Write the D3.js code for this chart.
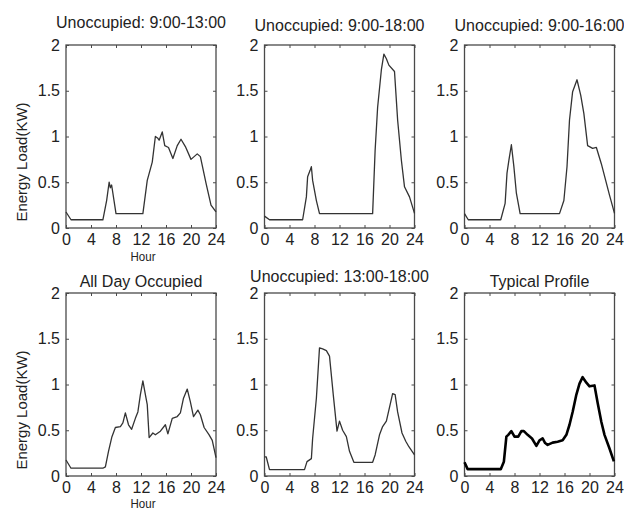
<!DOCTYPE html>
<html>
<head>
<meta charset="utf-8">
<script src="https://cdn.jsdelivr.net/npm/d3@7"></script>
<style>
    body { margin: 0; background: #fff; }
    svg { display: block; font-family: "Liberation Sans", Arial, sans-serif; }
    .frame { fill: none; stroke: #4a4a4a; stroke-width: 1.3; }
    .axis path { display: none; }
    .axis line { stroke: #4a4a4a; }
    .axis text { fill: #222; font-size: 16px; }
    .title, .axis-title { fill: #222; }
    .line { fill: none; stroke: #333; stroke-width: 1.3; stroke-linejoin: round; }
</style>
</head>
<body>
<svg id="chart" width="624" height="512"></svg>
<script>
/**********************************************
 *
 * six daily load profiles (hour, kW)
 *
 **********************************************/
const xTicks = [0, 4, 8, 12, 16, 20, 24]
const yTicks = [0, 0.5, 1, 1.5, 2]

const titles = [
    "Unoccupied: 9:00-13:00",
    "Unoccupied: 9:00-18:00",
    "Unoccupied: 9:00-16:00",
    "All Day Occupied",
    "Unoccupied: 13:00-18:00",
    "Typical Profile"
]

const unocc9to13 = [[0, 0.175], [0.8, 0.09], [5.9, 0.09], [6.5, 0.3], [6.9, 0.5], [7.1, 0.44], [7.3, 0.47], [8, 0.157],
    [12.3, 0.157], [13, 0.52], [13.8, 0.72], [14.3, 1.0], [14.7, 0.98], [14.9, 0.96], [15.4, 1.05], [15.8, 0.9],
    [16.4, 0.88], [17.1, 0.76], [17.8, 0.9], [18.4, 0.97], [19.1, 0.89], [20, 0.75], [21, 0.81], [21.5, 0.78],
    [22.4, 0.49], [23.2, 0.25], [24, 0.175]]

const unocc9to18 = [[0, 0.13], [0.8, 0.09], [6.1, 0.09], [6.7, 0.34], [6.9, 0.56], [7.3, 0.63], [7.5, 0.67], [7.7, 0.52],
    [8.3, 0.3], [8.8, 0.157], [17.3, 0.157], [17.7, 0.85], [18.1, 1.32], [18.7, 1.73], [19.1, 1.9], [19.5, 1.85],
    [19.9, 1.78], [20.8, 1.71], [21.3, 1.18], [21.9, 0.74], [22.4, 0.45], [23.2, 0.34], [24, 0.16]]

const unocc9to16 = [[0, 0.157], [0.6, 0.09], [5.8, 0.09], [6.5, 0.27], [6.8, 0.6], [7.1, 0.74], [7.5, 0.91], [7.9, 0.67],
    [8.3, 0.38], [8.9, 0.157], [15.2, 0.157], [15.9, 0.3], [16.4, 0.67], [16.8, 1.18], [17.3, 1.49], [18.0, 1.62],
    [18.6, 1.45], [19.1, 1.25], [19.7, 0.9], [20.5, 0.87], [21.1, 0.88], [21.9, 0.7], [22.7, 0.49], [23.2, 0.36],
    [24, 0.16]]

const allDayOccupied = [[0, 0.175], [0.8, 0.085], [5.9, 0.085], [6.3, 0.1], [6.8, 0.27], [7.35, 0.43], [7.9, 0.53],
    [8.7, 0.54], [9.1, 0.58], [9.5, 0.69], [10.0, 0.56], [10.5, 0.51], [11.1, 0.63], [11.5, 0.7], [11.9, 0.89],
    [12.3, 1.04], [12.7, 0.89], [13.0, 0.78], [13.3, 0.42], [13.9, 0.47], [14.3, 0.45], [15.1, 0.49], [15.9, 0.56],
    [16.3, 0.46], [17.0, 0.63], [17.8, 0.65], [18.3, 0.69], [18.8, 0.85], [19.4, 0.95], [19.9, 0.81], [20.4, 0.65],
    [21.1, 0.72], [21.5, 0.67], [22.1, 0.53], [22.9, 0.45], [23.4, 0.39], [24, 0.2]]

const unocc13to18 = [[0, 0.21], [0.27, 0.21], [0.8, 0.07], [6.4, 0.07], [6.8, 0.157], [7.5, 0.19], [7.7, 0.41],
    [8.3, 0.85], [8.8, 1.4], [9.3, 1.39], [9.9, 1.37], [10.4, 1.31], [11.0, 0.89], [11.6, 0.49], [12.0, 0.6],
    [12.5, 0.5], [13.1, 0.43], [13.6, 0.27], [14.3, 0.15], [17.3, 0.15], [17.7, 0.23], [18.4, 0.45], [18.9, 0.54],
    [19.5, 0.6], [19.9, 0.72], [20.5, 0.9], [20.9, 0.89], [21.3, 0.7], [22.0, 0.47], [22.6, 0.38], [23.1, 0.32],
    [24, 0.23]]

const typicalProfile = [[0, 0.15], [0.5, 0.075], [5.8, 0.075], [6.3, 0.157], [6.7, 0.43], [7.0, 0.45], [7.5, 0.49],
    [8.0, 0.43], [8.6, 0.43], [9.1, 0.49], [9.5, 0.49], [10.1, 0.45], [10.8, 0.41], [11.5, 0.33], [12.0, 0.39],
    [12.5, 0.41], [12.9, 0.36], [13.3, 0.34], [14.1, 0.365], [14.9, 0.375], [15.7, 0.39], [16.3, 0.45], [16.8, 0.56],
    [17.3, 0.7], [17.9, 0.89], [18.4, 1.01], [18.9, 1.08], [19.5, 1.02], [20.0, 0.98], [20.8, 0.99], [21.3, 0.8],
    [21.9, 0.59], [22.4, 0.45], [23.2, 0.3], [23.9, 0.16]]

const series = [unocc9to13, unocc9to18, unocc9to16, allDayOccupied, unocc13to18, typicalProfile]

// layout
const colX = [66, 264.5, 464.5]
const rowY = [45, 293]
const size = { w: 150, h: 183 }
const titleY = [28, 31, 31, 287, 282, 287]   // baselines

const svg = d3.select("#chart")

series.forEach((data, i) => {
    const col = i % 3
    const row = Math.floor(i / 3)
    const g = svg.append("g").attr("transform", `translate(${colX[col]}, ${rowY[row]})`)

    const x = d3.scaleLinear().domain([0, 24]).range([0, size.w])
    const y = d3.scaleLinear().domain([0, 2]).range([size.h, 0])

    // axes, ticks pointing inwards on all four sides
    g.append("g").attr("class", "axis")
        .attr("transform", `translate(0, ${size.h})`)
        .call(d3.axisBottom(x).tickValues(xTicks).tickSizeInner(-3).tickSizeOuter(0).tickPadding(5.5))
    g.append("g").attr("class", "axis")
        .call(d3.axisTop(x).tickValues(xTicks).tickSizeInner(-3).tickSizeOuter(0).tickFormat(""))
    g.append("g").attr("class", "axis")
        .call(d3.axisLeft(y).tickValues(yTicks).tickSizeInner(-3).tickSizeOuter(0).tickPadding(6)
            .tickFormat(d => String(d)))
    g.append("g").attr("class", "axis")
        .attr("transform", `translate(${size.w}, 0)`)
        .call(d3.axisRight(y).tickValues(yTicks).tickSizeInner(-3).tickSizeOuter(0).tickFormat(""))

    g.append("rect").attr("class", "frame")
        .attr("width", size.w).attr("height", size.h)

    const line = d3.line().x(d => x(d[0])).y(d => y(d[1]))
    g.append("path").datum(data)
        .attr("class", "line")
        .attr("d", line)
        .style("stroke", i === 5 ? "#000" : null)
        .style("stroke-width", i === 5 ? 2.6 : null)

    // panel title
    svg.append("text")
        .attr("class", "title")
        .attr("x", colX[col] + size.w / 2)
        .attr("y", titleY[i])
        .attr("text-anchor", "middle")
        .style("font-size", "16px")
        .text(titles[i])

    if (col === 0) {
        // y-axis title
        svg.append("text")
            .attr("class", "axis-title")
            .attr("transform", `translate(27, ${rowY[row] + 117}) rotate(-90)`)
            .attr("text-anchor", "middle")
            .style("font-size", "15px")
            .text("Energy Load(KW)")
        // x-axis title
        svg.append("text")
            .attr("class", "axis-title")
            .attr("x", colX[col] + size.w / 2 + 2)
            .attr("y", rowY[row] + size.h + (row === 0 ? 33 : 32))
            .attr("textLength", 25)
            .attr("lengthAdjust", "spacingAndGlyphs")
            .attr("text-anchor", "middle")
            .style("font-size", "13px")
            .text("Hour")
    }
})
</script>
</body>
</html>
